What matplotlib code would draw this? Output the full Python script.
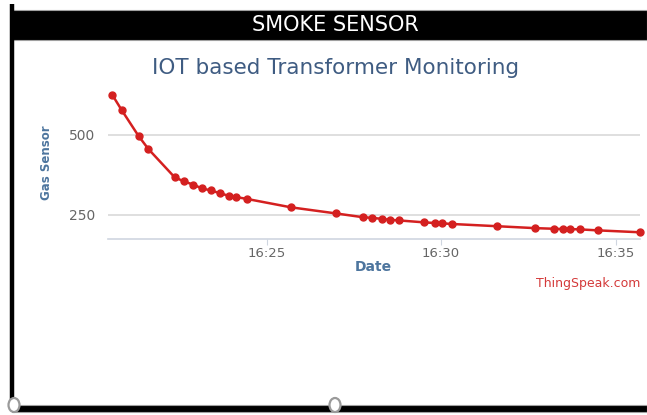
import matplotlib
matplotlib.use("Agg")
import matplotlib.pyplot as plt
import matplotlib.dates as mdates
from matplotlib.patches import Rectangle, Ellipse
import pandas as pd

# gas sensor readings (ThingSpeak field chart)
times = ["16:20:35", "16:20:51", "16:21:20", "16:21:37", "16:22:22", "16:22:38",
         "16:22:54", "16:23:09", "16:23:24", "16:23:40", "16:23:55", "16:24:08",
         "16:24:27", "16:25:42", "16:26:59", "16:27:46", "16:28:02", "16:28:18",
         "16:28:32", "16:28:48", "16:29:31", "16:29:49", "16:30:02", "16:30:18",
         "16:31:36", "16:32:41", "16:33:14", "16:33:30", "16:33:42", "16:33:59",
         "16:34:29", "16:35:42"]
gas = [625, 578, 497, 456, 368, 355, 345, 333, 327, 318, 310, 306,
       300, 274, 255, 243, 241, 238, 235, 233, 227, 225, 224, 222,
       215, 209, 207, 206, 206, 205, 202, 196]
y_ticks = [250, 500]
x_range = ["16:20:27", "16:35:42"]

day = "2019-03-15 "
t = pd.to_datetime([day + s for s in times])
xr = pd.to_datetime([day + s for s in x_range])

W, H = 647, 415
fig = plt.figure(figsize=(W / 100, H / 100), dpi=100)

# background layer in pixel coordinates (screenshot frame)
bg = fig.add_axes([0, 0, 1, 1], zorder=0)
bg.set_xlim(0, W)
bg.set_ylim(H, 0)
bg.axis("off")
bg.add_patch(Rectangle((12, 10), W - 12, 30, facecolor="black", edgecolor="#a0a0a0", lw=0.8))
bg.plot([12, 12], [4, 410], color="black", lw=3.2, solid_capstyle="butt")
bg.add_patch(Rectangle((12, 405), W - 12, 7, facecolor="black", edgecolor="#a0a0a0", lw=0.8))
for cx in (14, 335):
    bg.add_patch(Ellipse((cx, 405), 11, 14, facecolor="white", edgecolor="#9a9a9a", lw=1.6, zorder=3))

bg.text(335, 25, "SMOKE SENSOR", color="white", fontsize=15, ha="center", va="center")
bg.text(336, 68, "IOT based Transformer Monitoring", color="#3f5c82", fontsize=15.5,
        ha="center", va="center")
bg.text(46, 163, "Gas Sensor", color="#4d759e", fontsize=8.5, fontweight="bold",
        rotation=90, ha="center", va="center")
bg.text(373, 267, "Date", color="#4d759e", fontsize=10, fontweight="bold",
        ha="center", va="center")
bg.text(640, 283, "ThingSpeak.com", color="#d43a3a", fontsize=9, ha="right", va="center")

# chart area
ax = fig.add_axes([107.7 / W, (H - 239) / H, (640 - 107.7) / W, 152 / H], zorder=1)
ax.patch.set_alpha(0)
ax.plot(t, gas, color="#d42020", lw=1.8, marker="o", markersize=5, clip_on=False)
ax.set_ylim(175, 650)
ax.set_xlim(xr[0], xr[1])

ax.set_yticks(y_ticks)
ax.yaxis.grid(True, color="#dcdcdc", lw=1.3)
ax.set_axisbelow(True)
ax.tick_params(axis="y", length=0, pad=9, labelsize=10, labelcolor="#666666")

ax.xaxis.set_major_locator(mdates.MinuteLocator(byminute=[25, 30, 35]))
ax.xaxis.set_major_formatter(mdates.DateFormatter("%H:%M"))
ax.tick_params(axis="x", length=4, color="#cfd6e0", pad=2, labelsize=9.5, labelcolor="#666666")

for side in ("left", "right", "top"):
    ax.spines[side].set_visible(False)
ax.spines["bottom"].set_color("#cfd6e0")
ax.spines["bottom"].set_linewidth(1.2)

fig.savefig("out.png", dpi=100)
